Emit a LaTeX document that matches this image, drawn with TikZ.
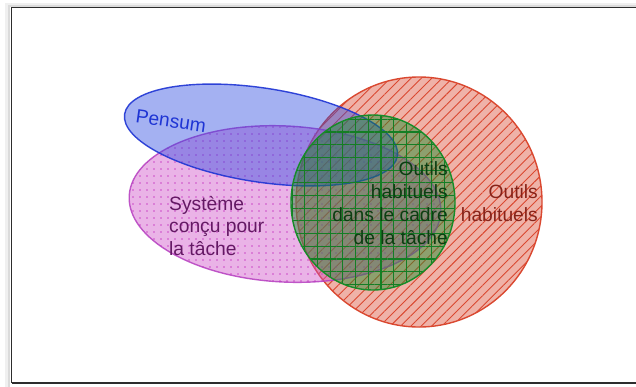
\documentclass[tikz,border=0pt]{standalone}
\usepackage{fontspec}
\setmainfont{Liberation Sans}
\usetikzlibrary{patterns.meta}
\definecolor{redline}{RGB}{218,72,48}
\definecolor{redtext}{RGB}{135,35,25}
\definecolor{greenline}{RGB}{22,140,40}
\definecolor{greentext}{RGB}{12,62,18}
\definecolor{blueline}{RGB}{30,52,212}
\definecolor{bluefill}{RGB}{40,70,225}
\definecolor{magline}{RGB}{182,62,192}
\definecolor{magfill}{RGB}{205,75,200}
\definecolor{magtext}{RGB}{100,25,100}
\definecolor{framecol}{RGB}{45,45,45}
\tikzset{
  lbl/.style={inner sep=0pt, font=\fontsize{19.3}{23}\selectfont},
  outline/.style={line width=1.4bp},
}
\begin{document}
\begin{tikzpicture}[x=1bp,y=-1bp]
\useasboundingbox (0,0) rectangle (636,386);
\fill[white] (0,0) rectangle (636,386);
% frame with soft shadow
\draw[line width=4bp, black!6] (7,390) -- (7,5) -- (640,5);
\draw[line width=2bp, black!14] (9.3,390) -- (9.3,6.3) -- (640,6.3);
\draw[line width=1.8bp, framecol] (11.5,383) -- (11.5,7.5) -- (640,7.5);
\draw[line width=1.8bp, framecol] (11.5,383) -- (640,383);
% red circle
\fill[redline, fill opacity=0.42] (419,202) ellipse [x radius=123, y radius=125];
\path[pattern={Lines[angle=45,distance=7.3bp,line width=0.9bp]}, pattern color=redline] (419,202) ellipse [x radius=123, y radius=125];
\draw[outline, redline] (419,202) ellipse [x radius=123, y radius=125];
% magenta ellipse
\begin{scope}[shift={(285,204)}, rotate=-3]
\fill[magfill, fill opacity=0.42] (0,0) ellipse [x radius=156, y radius=78];
\path[pattern={Dots[distance=7bp,radius=0.8bp]}, pattern color=magfill] (0,0) ellipse [x radius=156, y radius=78];
\draw[outline, magline, draw opacity=0.85] (0,0) ellipse [x radius=156, y radius=78];
\end{scope}
% blue ellipse
\begin{scope}[shift={(261,135)}, rotate=-8.7]
\fill[bluefill, fill opacity=0.42] (0,0) ellipse [x radius=138, y radius=47];
\draw[outline, blueline, draw opacity=0.9] (0,0) ellipse [x radius=138, y radius=47];
\end{scope}
% green circle
\fill[greenline, fill opacity=0.45] (373,202.5) ellipse [x radius=82, y radius=87.5];
\path[pattern={Hatch[angle=0,distance=12.7bp,line width=1.1bp]}, pattern color=greenline!90!black] (373,202.5) ellipse [x radius=82, y radius=87.5];
\draw[outline, greenline] (373,202.5) ellipse [x radius=82, y radius=87.5];
% labels
\node[lbl, text=blueline, rotate=-8] (pensum) at (171,121) {Pensum};
\node[lbl, text=magtext, align=left, anchor=west] (systeme) at (169,226) {Système\\conçu pour\\la tâche};
\node[lbl, text=greentext, align=right, anchor=east] (outilscadre) at (448,203) {Outils\\habituels\\dans le cadre\\de la tâche};
\node[lbl, text=redtext, align=right, anchor=east] (outils) at (538,203) {Outils\\habituels};
\end{tikzpicture}
\end{document}
